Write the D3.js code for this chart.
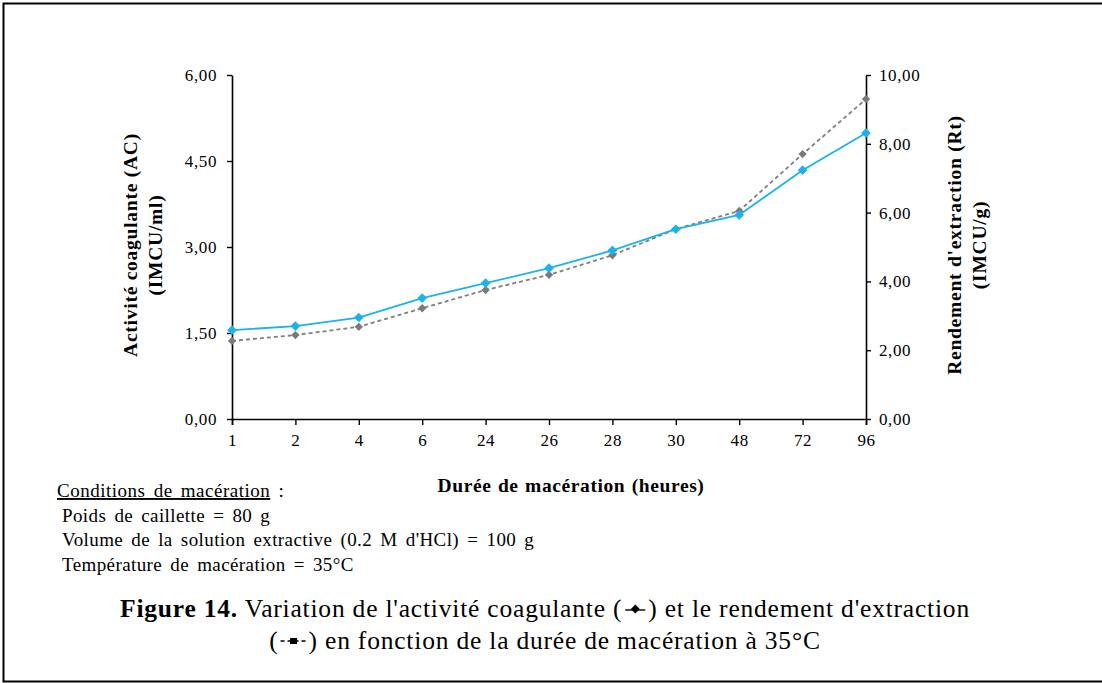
<!DOCTYPE html>
<html lang="fr">
<head>
  <meta charset="UTF-8">
  <title>Figure 14</title>
  <style>
    body { margin: 0; background: #fff; }
    svg text { font-family: "Liberation Serif", "Times New Roman", Tinos, "DejaVu Serif", serif; fill: #000; }
  </style>
</head>
<body>
  <svg id="chart" width="1102" height="683"></svg>

  <script src="https://d3js.org/d3.v7.min.js"></script>
  <script>
    // data
    const hours = ['1', '2', '4', '6', '24', '26', '28', '30', '48', '72', '96'];
    const activite = [1.55, 1.62, 1.77, 2.11, 2.37, 2.63, 2.94, 3.31, 3.56, 4.34, 4.99];   // AC, left axis
    const rendement = [2.27, 2.44, 2.68, 3.22, 3.75, 4.19, 4.76, 5.52, 6.05, 7.70, 9.30];   // Rt, right axis
    const leftTicks = [0, 1.5, 3, 4.5, 6];
    const rightTicks = [0, 2, 4, 6, 8, 10];

    const conditions = [
      'Poids de caillette = 80 g',
      'Volume de la solution extractive (0.2 M d\'HCl) = 100 g',
      'Température de macération = 35°C'
    ];

    const serif = '"Liberation Serif", "Times New Roman", Tinos, "DejaVu Serif", serif';
    const svg = d3.select('#chart');
    const frac = d3.format('.2f');
    const comma = d => frac(d).replace('.', ',');

    // frame (right edge runs off the picture)
    svg.append('path')
      .attr('d', 'M1110,3.5 H3.5 V681.5 H1110')
      .attr('fill', 'none').attr('stroke', '#000').attr('stroke-width', 2);

    const plotL = 232, plotR = 866, plotT = 75, plotB = 419;

    const x = d3.scalePoint().domain(hours).range([plotL, plotR]);
    const yL = d3.scaleLinear().domain([0, 6]).range([plotB, plotT]);
    const yR = d3.scaleLinear().domain([0, 10]).range([plotB, plotT]);

    // axes
    const gx = svg.append('g').attr('transform', `translate(0,${plotB})`)
      .call(d3.axisBottom(x).tickSizeOuter(0).tickSize(6).tickPadding(9));
    const gl = svg.append('g').attr('transform', `translate(${plotL},0)`)
      .call(d3.axisLeft(yL).tickValues(leftTicks).tickFormat(comma).tickSize(5).tickSizeOuter(0).tickPadding(10));
    const gr = svg.append('g').attr('transform', `translate(${plotR},0)`)
      .call(d3.axisRight(yR).tickValues(rightTicks).tickFormat(comma).tickSize(5).tickSizeOuter(0).tickPadding(8));

    [gx, gl, gr].forEach(g => {
      g.attr('font-family', serif);
      g.selectAll('.domain').attr('stroke', '#000').attr('stroke-width', 1.6);
      g.selectAll('.tick line').attr('stroke', '#000').attr('stroke-width', 1.4);
      g.selectAll('.tick text')
        .style('font-family', serif)
        .style('font-size', '17px').style('letter-spacing', '0.6px').attr('fill', '#000');
    });

    // series
    const lineL = d3.line().x((d, i) => x(hours[i])).y(d => yL(d));
    const lineR = d3.line().x((d, i) => x(hours[i])).y(d => yR(d));

    svg.append('path').datum(rendement)
      .attr('d', lineR).attr('fill', 'none')
      .attr('stroke', '#7f7f7f').attr('stroke-width', 1.8)
      .attr('stroke-dasharray', '4,3');

    svg.append('path').datum(activite)
      .attr('d', lineL).attr('fill', 'none')
      .attr('stroke', '#1cb2ec').attr('stroke-width', 1.8);

    const diamondSmall = d3.symbol().type(d3.symbolDiamond2).size(44)();
    const diamondBig = d3.symbol().type(d3.symbolDiamond2).size(60)();

    svg.append('g').selectAll('path').data(rendement).join('path')
      .attr('d', diamondSmall)
      .attr('transform', (d, i) => `translate(${x(hours[i])},${yR(d)})`)
      .attr('fill', '#7a7a7a');

    svg.append('g').selectAll('path').data(activite).join('path')
      .attr('d', diamondBig)
      .attr('transform', (d, i) => `translate(${x(hours[i])},${yL(d)})`)
      .attr('fill', '#1cb2ec');

    // axis titles
    const mid = (plotT + plotB) / 2;
    function vTitle(cx, lines) {
      const t = svg.append('text')
        .attr('transform', `translate(${cx},${mid - 2}) rotate(-90)`)
        .attr('text-anchor', 'middle')
        .style('font-size', '19.5px').style('font-weight', 'bold')
        .style('letter-spacing', '0.75px');
      lines.forEach((s, i) => t.append('tspan').attr('x', 0).attr('dy', i ? 25 : 0).text(s));
    }
    vTitle(137, ['Activité coagulante (AC)', '(IMCU/ml)']);
    vTitle(961, ['Rendement d\'extraction (Rt)', '(IMCU/g)']);

    svg.append('text')
      .attr('x', 571).attr('y', 492)
      .attr('text-anchor', 'middle')
      .style('font-size', '19.5px').style('font-weight', 'bold')
      .style('letter-spacing', '0.6px').style('word-spacing', '1px')
      .text('Durée de macération (heures)');

    // conditions block
    const head = svg.append('text').attr('x', 57).attr('y', 497)
      .style('font-size', '19px').style('word-spacing', '3px').style('letter-spacing', '0.5px');
    head.append('tspan').attr('text-decoration', 'underline').text('Conditions de macération');
    head.append('tspan').text(' :');

    svg.append('g').selectAll('text').data(conditions).join('text')
      .attr('x', 62).attr('y', (d, i) => 522 + i * 24.3)
      .style('font-size', '19px').style('word-spacing', '3px').style('letter-spacing', '0.4px')
      .text(d => d);

    // caption with inline legend symbols
    function captionLine(parts, y) {
      const g = svg.append('g');
      let cx = 0;
      parts.forEach(p => {
        if (p.sym) {
          const w = p.sym === 'solid' ? 26 : 30;
          const sg = g.append('g').attr('transform', `translate(${cx},${y - 8})`);
          if (p.sym === 'solid') {
            sg.append('line').attr('x1', 3).attr('x2', w - 3).attr('y1', 1).attr('y2', 1)
              .attr('stroke', '#000').attr('stroke-width', 1.4);
            sg.append('path').attr('d', d3.symbol().type(d3.symbolDiamond2).size(50)())
              .attr('transform', `translate(${w / 2},0)`).attr('fill', '#000');
          } else {
            sg.append('line').attr('x1', 2).attr('x2', w - 2).attr('y1', 0).attr('y2', 0)
              .attr('stroke', '#000').attr('stroke-width', 1.4).attr('stroke-dasharray', '4,3');
            sg.append('rect').attr('x', w / 2 - 3.5).attr('y', -3).attr('width', 7).attr('height', 6)
              .attr('fill', '#000');
          }
          cx += w;
        } else {
          const t = g.append('text').attr('x', cx).attr('y', y)
            .style('font-size', '25.5px').style('font-weight', p.bold ? 'bold' : 'normal')
            .style('letter-spacing', '0.8px')
            .style('white-space', 'pre')
            .text(p.t);
          cx += t.node().getComputedTextLength();
        }
      });
      g.attr('transform', `translate(${545 - cx / 2},0)`);
    }
    captionLine([
      { t: 'Figure 14.', bold: true },
      { t: ' Variation de l\'activité coagulante (' },
      { sym: 'solid' },
      { t: ') et le rendement d\'extraction' }
    ], 617);
    captionLine([
      { t: '(' },
      { sym: 'dash' },
      { t: ') en fonction de la durée de macération à 35°C' }
    ], 649);
  </script>
</body>
</html>
